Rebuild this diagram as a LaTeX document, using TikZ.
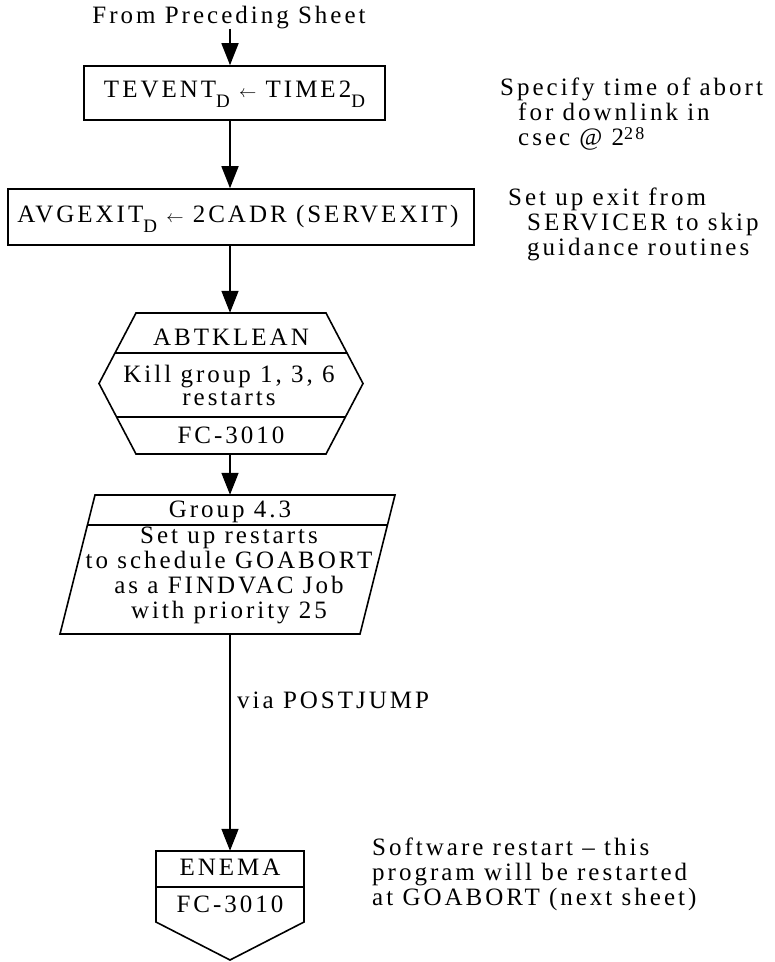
\documentclass[tikz,border=0pt]{standalone}
\usepackage{fontspec}
\setmainfont[LetterSpace=12]{Liberation Serif}
\usetikzlibrary{arrows.meta, positioning}

\tikzstyle{arrow} = [line width=1.6pt, -{Triangle[length=22pt, width=17pt]}]
\tikzstyle{process} = [rectangle, draw=black, line width=1.6pt, inner sep=0pt, text height=17pt]
\tikzstyle{frame} = [minimum width=10pt, inner sep=0pt]
\tikzstyle{outline} = [draw=black, line width=1.6pt, line join=miter]
\tikzstyle{note} = [anchor=base west, align=left, inner sep=0pt]

% lowered subscript and raised exponent, as set on the sheet
\newcommand{\lowD}{\raisebox{-10pt}{\fontsize{19}{19}\selectfont D}}
\newcommand{\upexp}[1]{\raisebox{6pt}{\fontsize{18}{18}\selectfont #1}}
\newcommand{\setto}{{\fontsize{19}{19}\selectfont$\leftarrow$}}

\begin{document}
\begin{tikzpicture}[x=1pt, y=-1pt, font=\fontsize{25}{25}\selectfont]
\useasboundingbox (0,0) rectangle (775,962);
\coordinate (spine) at (230,0);

% Entry
\node (from) [anchor=base, inner sep=0pt] at (229,23) {From Preceding Sheet};

% Assignments
\node (tevent) [process, minimum width=301pt, minimum height=54pt, text depth=9pt] at (234.5,93) {TEVENT\lowD\ \setto\ TIME2\lowD};
\node (avgexit) [process, minimum width=466pt, minimum height=56pt, text depth=7pt] at (241,217) {\hspace*{-6pt}AVGEXIT\lowD\ \setto\ 2CADR (SERVEXIT)};

% ABTKLEAN
\node (abtklean) [frame, minimum width=264pt, minimum height=141pt] at (231,383.5) {};
\draw [outline] (136,313) -- (326,313) -- (363,383.5) -- (326,454) -- (136,454) -- (99,383.5) -- cycle;
\draw [outline] (115,353) -- (347,353);
\draw [outline] (117,417) -- (345,417);
\node (abtname) [anchor=base, inner sep=0pt] at (231,345) {ABTKLEAN};
\node (abttask) [anchor=base, inner sep=0pt, align=center] at (229,405) {Kill group 1, 3, 6\\[-2pt]restarts};
\node (abtref) [anchor=base, inner sep=0pt] at (231,443) {FC-3010};

% Restart group
\node (group) [frame, minimum width=335pt, minimum height=139pt] at (227.5,564.5) {};
\draw [outline] (95,495) -- (395,495) -- (360,634) -- (60,634) -- cycle;
\draw [outline] (87.4,525) -- (387.4,525);
\node (groupname) [anchor=base, inner sep=0pt] at (230,517) {Group 4.3};
\node (grouptask) [anchor=base, inner sep=0pt, align=center] at (229,618) {Set up restarts\\to schedule GOABORT\\as a FINDVAC Job\\with priority 25};

% ENEMA
\node (enema) [frame, minimum width=148pt, minimum height=109pt] at (230,905.5) {};
\draw [outline] (156,851) -- (304,851) -- (304,922) -- (230,960) -- (156,922) -- cycle;
\draw [outline] (156,887) -- (304,887);
\node (enemaname) [anchor=base, inner sep=0pt] at (230,875) {ENEMA};
\node (enemaref) [anchor=base, inner sep=0pt] at (230,912) {FC-3010};

% Arrows
\draw [arrow] (from.south -| spine) -- (tevent.north -| spine);
\draw [arrow] (tevent.south -| spine) -- (avgexit.north -| spine);
\draw [arrow] (avgexit.south -| spine) -- (abtklean.north -| spine);
\draw [arrow] (abtklean.south -| spine) -- (group.north -| spine);
\draw [arrow] (group.south -| spine) -- (enema.north -| spine);
\node (postjump) [anchor=base west, inner sep=0pt] at (237,708) {via POSTJUMP};

% Remarks
\node (abortnote) [note] at (500,145) {Specify time of abort\\\hspace*{18pt}for downlink in\\\hspace*{18pt}csec @ 2\upexp{28}};
\node (exitnote) [note] at (508,255) {Set up exit from\\\hspace*{19pt}SERVICER to skip\\\hspace*{19pt}guidance routines};
\node (restartnote) [note] at (372,905) {Software restart -- this\\program will be restarted\\at GOABORT (next sheet)};

\end{tikzpicture}
\end{document}
